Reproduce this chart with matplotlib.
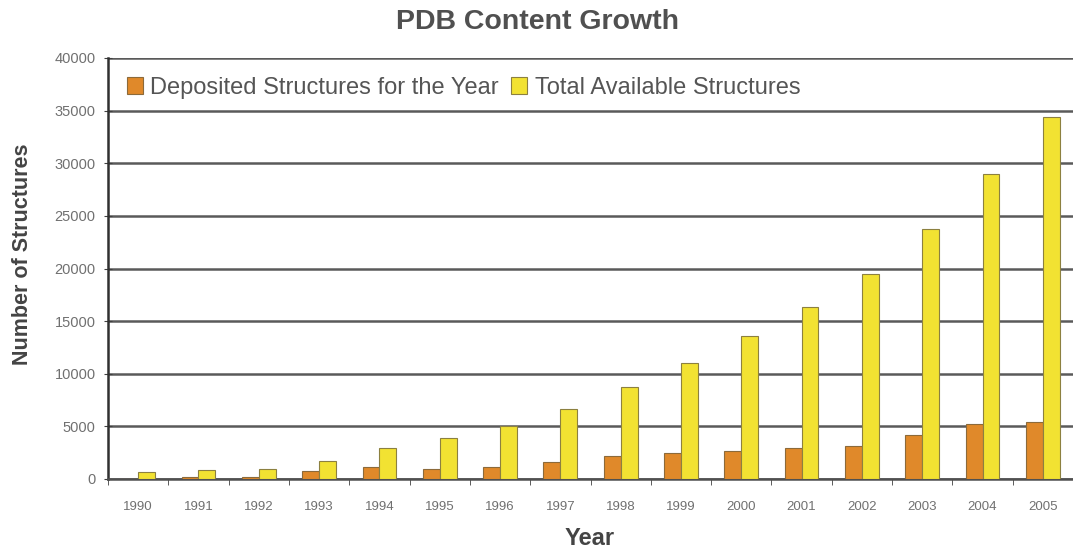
import numpy as np
import matplotlib
matplotlib.use('Agg')
import matplotlib.pyplot as plt

# данные
years = ['1990', '1991', '1992', '1993', '1994', '1995', '1996', '1997',
         '1998', '1999', '2000', '2001', '2002', '2003', '2004', '2005']
deposited = [40, 200, 200, 760, 1150, 950, 1150, 1620,
             2190, 2480, 2670, 2950, 3140, 4190, 5240, 5430]
total = [670, 860, 950, 1710, 2950, 3900, 5050, 6670,
         8760, 11050, 13620, 16380, 19430, 23710, 28950, 34380]

plt.rcParams['font.family'] = ['Liberation Sans', 'DejaVu Sans']

fig = plt.figure(figsize=(10.73, 5.5), dpi=100)
ax = fig.add_axes([108 / 1073, 1 - 479 / 550, 965 / 1073, 421 / 550])

x = np.arange(len(years))
w = 0.28
ax.bar(x - w / 2, deposited, w, color='#E0892A', edgecolor='#8C6A3A', linewidth=0.8,
       label='Deposited Structures for the Year', zorder=3)
ax.bar(x + w / 2, total, w, color='#F2E232', edgecolor='#8C8040', linewidth=0.8,
       label='Total Available Structures', zorder=3)

ax.set_xlim(-0.5, len(years) - 0.5)
ax.set_ylim(0, 40000)
ax.set_yticks(np.arange(0, 40001, 5000))
ax.set_xticks(x)
ax.set_xticklabels(years)
ax.set_xticks(np.arange(-0.5, len(years), 1), minor=True)
ax.tick_params(axis='x', which='major', length=0, pad=16, labelsize=9.5, labelcolor='#707070')
ax.tick_params(axis='x', which='minor', length=4, color='#404040', direction='out')
ax.tick_params(axis='y', length=6, direction='inout', color='#404040', labelsize=10.5,
               labelcolor='#707070', pad=6)

ax.yaxis.grid(True, color='#5a5a5a', linewidth=1.8, zorder=0)
ax.set_axisbelow(True)
for s in ['top', 'right']:
    ax.spines[s].set_visible(False)
ax.spines['left'].set_color('#303030')
ax.spines['left'].set_linewidth(1.8)
ax.spines['bottom'].set_color('#505050')
ax.spines['bottom'].set_linewidth(1.8)

ax.set_ylabel('Number of Structures', fontsize=15.5, fontweight='bold', color='#444444')
ax.yaxis.set_label_coords((33 - 108) / 965, (479 - 254) / 421)
ax.set_xlabel('Year', fontsize=17, fontweight='bold', color='#444444')
ax.xaxis.set_label_coords((590 - 108) / 965, -(527 - 479) / 421)
fig.text(537 / 1073, 1 - 22 / 550, 'PDB Content Growth', ha='center', va='center',
         fontsize=20.5, fontweight='bold', color='#505050')

leg = ax.legend(loc='upper left', bbox_to_anchor=(0.0, 1.0), ncol=2, frameon=False,
                fontsize=17, handlelength=0.7, handleheight=0.7, handletextpad=0.3,
                columnspacing=0.5, borderaxespad=0.4)
for t in leg.get_texts():
    t.set_color('#555555')

plt.savefig('out.png', dpi=100)
